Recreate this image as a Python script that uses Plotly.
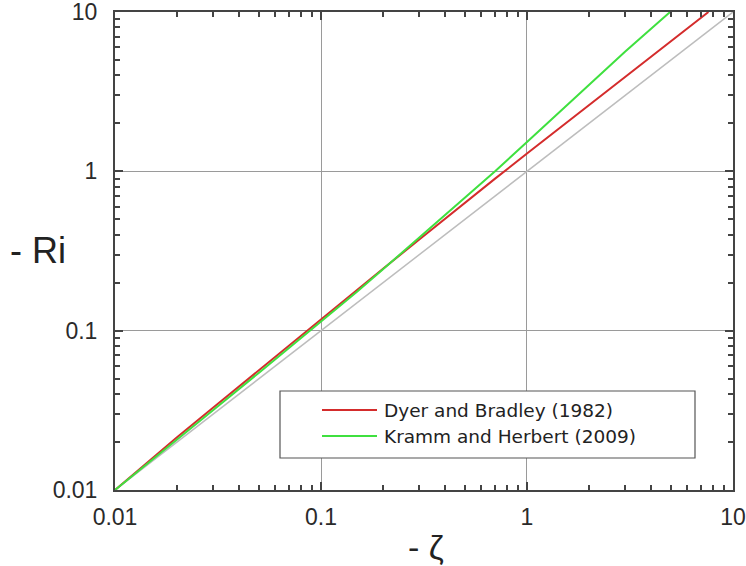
import plotly.graph_objects as go

# -zeta (stability parameter) and -Ri values for the two unstable-regime relations
zeta_dyer = [0.01, 0.015, 0.02, 0.03, 0.05, 0.07, 0.1, 0.15, 0.2, 0.3, 0.5, 0.7, 1.0, 2.0, 3.0, 5.0, 7.6]
ri_dyer = [0.0100, 0.0157, 0.0214, 0.0329, 0.0565, 0.0810, 0.119, 0.182, 0.245, 0.373, 0.637, 0.900, 1.293, 2.60, 3.91, 6.53, 10.0]

zeta_kramm = [0.01, 0.015, 0.02, 0.03, 0.05, 0.07, 0.1, 0.15, 0.2, 0.3, 0.5, 0.7, 1.0, 1.5, 2.0, 3.0, 4.95]
ri_kramm = [0.0100, 0.0154, 0.0208, 0.0318, 0.0545, 0.0780, 0.1135, 0.176, 0.243, 0.385, 0.680, 1.00, 1.53, 2.48, 3.50, 5.65, 10.0]

# Reference line Ri = zeta
zeta_ref = [0.01, 10.0]
ri_ref = [0.01, 10.0]

names = ["Dyer and Bradley (1982)", "Kramm and Herbert (2009)"]
colors = ["#d42c2c", "#3fe03f"]

W, H = 746, 566
L, R, T, B = 115, 13, 12, 76
pw, ph = W - L - R, H - T - B


def px_x(x):
    return (x - L) / pw


def px_y(y):
    return (H - B - y) / ph


fig = go.Figure()
fig.add_trace(go.Scatter(x=zeta_ref, y=ri_ref, mode="lines",
                         line=dict(color="#bdbdbd", width=1.5),
                         showlegend=False, hoverinfo="skip"))
fig.add_trace(go.Scatter(x=zeta_dyer, y=ri_dyer, mode="lines", name=names[0],
                         line=dict(color=colors[0], width=2),
                         showlegend=False))
fig.add_trace(go.Scatter(x=zeta_kramm, y=ri_kramm, mode="lines", name=names[1],
                         line=dict(color=colors[1], width=2),
                         showlegend=False))

axis_common = dict(
    type="log",
    range=[-2.0001, 1.0001],
    tickvals=[0.01, 0.1, 1, 10],
    ticktext=["0.01", "0.1", "1", "10"],
    ticks="inside",
    ticklen=8,
    tickwidth=1.5,
    tickcolor="#444444",
    showline=True,
    linecolor="#444444",
    linewidth=2,
    mirror="allticks",
    showgrid=True,
    gridcolor="#9a9a9a",
    gridwidth=1,
    zeroline=False,
    automargin=False,
    ticklabeloverflow="allow",
    tickfont=dict(family="Liberation Sans, Arial, sans-serif", size=23, color="#2a2a2a"),
    minor=dict(ticks="inside", ticklen=5, tickwidth=1.5, tickcolor="#444444",
               dtick="D1", showgrid=False),
)

fig.update_xaxes(**axis_common, ticklabelstandoff=5)
fig.update_yaxes(**axis_common, ticklabelstandoff=11)

# Legend box drawn in pixel geometry
box = dict(x0=280, x1=695, y0=391, y1=458)
fig.add_shape(type="rect", xref="paper", yref="paper",
              x0=px_x(box["x0"]), x1=px_x(box["x1"]),
              y0=px_y(box["y1"]), y1=px_y(box["y0"]),
              line=dict(color="#555555", width=1.2), fillcolor="white", layer="above")
for i, (nm, col) in enumerate(zip(names, colors)):
    yy = 410 + i * 26
    fig.add_shape(type="line", xref="paper", yref="paper",
                  x0=px_x(322), x1=px_x(377), y0=px_y(yy), y1=px_y(yy),
                  line=dict(color=col, width=2), layer="above")
    fig.add_annotation(xref="paper", yref="paper", x=px_x(382), y=px_y(yy),
                       xanchor="left", yanchor="middle", showarrow=False,
                       text=nm, font=dict(family="DejaVu Sans, Verdana, sans-serif",
                                          size=18.5, color="#222222"))

# Axis titles
fig.add_annotation(xref="paper", yref="paper", x=px_x(38), y=px_y(250),
                   xanchor="center", yanchor="middle", showarrow=False,
                   text="- Ri", font=dict(family="Liberation Sans, Arial, sans-serif",
                                          size=36, color="#222222"))
fig.add_annotation(xref="paper", yref="paper", x=px_x(426), y=px_y(547),
                   xanchor="center", yanchor="middle", showarrow=False,
                   text="- ζ", font=dict(family="Liberation Sans, Arial, sans-serif",
                                         size=34, color="#222222"))

fig.update_layout(
    width=W, height=H,
    margin=dict(l=L, r=R, t=T, b=B),
    plot_bgcolor="white",
    paper_bgcolor="white",
    showlegend=False,
)

fig.write_html("out.html")
